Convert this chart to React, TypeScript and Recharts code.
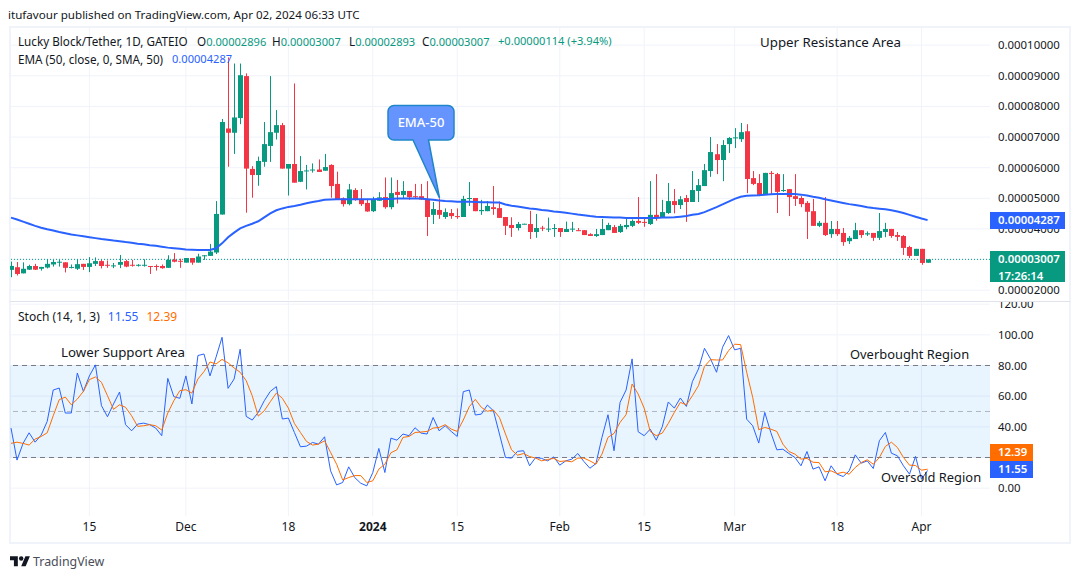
import React from "react";
import { ComposedChart, Bar, Line, XAxis, YAxis, CartesianGrid, ReferenceLine, ReferenceArea } from "recharts";

const PRICE_UNIT = 1e-5;
const opens = [2.663,2.75,2.55,2.67,2.79,2.70,2.74,2.84,2.91,2.91,
2.74,2.70,2.86,2.76,2.86,2.95,2.83,2.78,2.83,2.95,
2.83,2.81,2.81,2.79,2.79,2.79,2.73,3.00,2.96,2.90,
3.05,2.90,3.12,3.12,3.23,4.47,7.28,7.14,7.62,8.99,
5.96,5.76,6.19,6.71,7.14,7.39,5.97,6.12,5.54,5.89,
5.92,5.94,5.90,6.09,5.47,5.00,4.81,5.27,4.98,4.85,
4.58,4.92,5.04,4.71,5.21,5.11,5.24,5.07,5.07,4.98,
4.46,4.62,4.39,4.52,4.42,4.39,4.98,5.01,4.58,4.58,
4.71,4.68,4.39,4.13,4.03,4.15,4.16,3.90,4.04,3.99,
4.01,4.03,3.90,3.99,3.96,3.96,3.83,3.77,3.80,3.96,
4.06,3.90,4.06,4.10,4.26,4.23,4.16,4.46,4.36,4.52,
4.91,4.78,5.01,4.88,5.24,5.40,5.89,6.44,6.25,6.77,
6.97,6.93,7.19,5.66,5.50,5.14,5.83,5.79,5.24,5.30,
5.07,5.01,4.85,4.58,4.10,4.20,3.83,4.00,3.87,3.60,
3.67,3.96,3.82,3.87,3.71,3.90,4.00,3.80,3.77,3.41,
3.12,3.35,2.896];
const closes = [2.793,2.53,2.70,2.79,2.67,2.76,2.86,2.92,2.93,2.73,
2.76,2.85,2.76,2.88,2.95,2.79,2.81,2.81,2.92,2.77,
2.81,2.83,2.83,2.77,2.77,2.72,2.99,2.93,2.93,3.05,
2.90,3.10,3.14,3.26,4.49,7.49,7.14,7.64,9.02,5.97,
5.76,6.22,6.77,7.16,7.39,5.97,6.12,5.51,5.89,5.91,
5.94,5.86,6.02,5.40,4.97,4.81,5.29,4.95,4.81,4.57,
4.97,5.03,4.71,5.17,5.11,5.24,5.04,5.04,4.96,4.39,
4.65,4.46,4.55,4.42,4.39,4.98,5.01,4.58,4.62,4.75,
4.65,4.36,4.10,4.03,4.16,4.17,3.90,4.03,4.01,4.01,
4.03,3.90,4.00,4.01,3.94,3.80,3.77,3.83,4.00,4.13,
3.87,4.10,4.13,4.26,4.20,4.21,4.46,4.36,4.55,4.91,
4.78,4.97,4.88,5.27,5.43,5.92,6.51,6.25,6.74,6.97,
6.99,7.16,5.63,5.47,5.11,5.83,5.80,5.21,5.27,5.04,
4.98,4.81,4.56,4.10,4.20,3.80,4.00,3.83,3.57,3.71,
3.96,3.80,3.86,3.71,3.93,4.00,3.77,3.74,3.38,3.12,
3.35,2.89,3.007];
const highs = [2.935,2.92,2.91,2.83,2.86,2.76,3.01,2.99,2.99,2.91,
2.84,3.01,2.86,3.08,3.07,2.99,2.97,2.89,3.15,2.99,
2.99,2.85,3.01,2.79,2.84,2.84,3.14,3.21,3.03,3.05,
3.05,3.19,3.14,3.51,4.91,7.59,9.60,9.40,9.40,9.08,
6.05,6.36,7.49,8.99,7.88,7.46,6.12,8.75,6.38,6.09,
6.14,6.27,6.45,6.11,5.87,5.03,5.47,5.33,5.30,4.98,
5.05,5.20,5.68,5.68,5.60,5.56,5.24,5.47,5.47,5.56,
4.88,5.00,4.67,4.65,4.67,5.08,5.53,5.01,4.95,4.91,
5.40,4.89,4.39,4.38,4.23,4.17,4.59,4.49,4.10,4.37,
4.16,4.03,4.24,4.23,4.03,3.96,3.86,4.00,4.33,4.20,
4.13,4.16,4.36,4.31,5.04,4.36,5.56,5.79,4.95,5.50,
5.30,5.07,5.11,5.89,5.63,6.12,7.00,6.77,6.90,7.00,
7.29,7.46,7.42,5.89,5.79,5.83,5.89,5.83,5.79,5.30,
5.79,5.07,4.91,4.98,4.26,5.04,4.26,4.26,4.03,3.77,
4.20,3.96,3.92,3.87,4.52,4.20,4.00,3.90,3.80,3.45,
3.35,3.35,3.007];
const lows = [2.424,2.48,2.55,2.66,2.66,2.64,2.71,2.77,2.77,2.58,
2.71,2.66,2.66,2.59,2.79,2.71,2.73,2.72,2.72,2.75,
2.77,2.77,2.77,2.53,2.64,2.70,2.73,2.91,2.73,2.90,
2.83,2.90,2.99,3.12,3.18,4.47,6.03,6.45,7.42,4.53,
5.02,5.41,6.03,6.19,6.92,5.97,5.09,5.51,5.53,5.29,
5.84,5.86,5.90,5.02,4.97,4.73,4.77,4.92,4.75,4.56,
4.55,4.92,4.66,4.64,4.83,4.98,4.95,4.98,4.95,3.77,
4.16,4.33,4.33,4.33,4.33,4.39,4.75,4.58,4.46,4.58,
4.46,4.36,3.80,3.74,3.95,4.15,3.67,3.71,3.93,3.90,
3.74,3.74,3.90,3.90,3.93,3.80,3.77,3.74,3.80,3.96,
3.87,3.87,3.99,4.06,4.16,4.07,4.13,4.27,4.36,4.49,
4.51,4.65,4.23,4.88,4.88,5.40,5.70,5.79,5.56,6.48,
6.64,6.84,5.17,5.43,5.07,5.14,5.14,4.52,5.21,4.42,
4.75,4.71,3.67,4.10,4.06,3.77,3.71,3.77,3.45,3.51,
3.67,3.71,3.77,3.61,3.64,3.73,3.71,3.61,3.15,3.05,
3.12,2.83,2.893];
const emaValues = [4.37,4.31,4.24,4.17,4.10,4.04,3.99,3.95,3.90,3.86,
3.82,3.79,3.76,3.73,3.70,3.67,3.65,3.62,3.60,3.57,
3.55,3.52,3.50,3.47,3.45,3.42,3.39,3.37,3.35,3.33,
3.32,3.31,3.31,3.31,3.37,3.53,3.73,3.88,4.02,4.10,
4.17,4.25,4.38,4.51,4.61,4.67,4.72,4.75,4.79,4.84,
4.88,4.91,4.95,4.96,4.97,4.97,4.97,4.97,4.97,4.97,
4.97,4.98,4.98,4.98,4.99,4.99,4.99,4.99,4.99,4.97,
4.95,4.93,4.91,4.90,4.89,4.89,4.89,4.88,4.87,4.87,
4.86,4.86,4.80,4.76,4.73,4.70,4.67,4.65,4.62,4.60,
4.57,4.55,4.53,4.50,4.47,4.45,4.42,4.40,4.39,4.38,
4.37,4.37,4.36,4.36,4.36,4.36,4.36,4.36,4.37,4.37,
4.38,4.40,4.42,4.46,4.49,4.55,4.63,4.71,4.80,4.89,
4.98,5.05,5.08,5.09,5.10,5.12,5.13,5.14,5.14,5.14,
5.14,5.12,5.09,5.05,5.02,4.97,4.93,4.89,4.85,4.81,
4.78,4.75,4.71,4.68,4.66,4.64,4.61,4.57,4.52,4.46,
4.40,4.34,4.287];
const stochK = [39.2,18.3,29.2,36.1,30,34.6,43.5,64,65.3,49,
49,75.1,63.1,73.2,80.4,53.8,46.6,54.9,62.7,41.4,
37.4,41.8,42.4,41.4,39.2,34.2,71.6,59.7,58.6,73.2,
54.9,86.5,87.5,73.2,85.4,98.4,65.1,71.2,90.6,46.8,
44.4,49.4,57,63.1,66.2,45.1,45.7,36.3,27,27.4,
29.8,28.7,33.5,11.3,2.1,3.7,13.9,6.9,3.2,1.5,
10.2,25.9,10.2,32.6,31.3,35.3,34.2,39.4,35.9,35.3,
46.1,37.4,40.7,37,33.7,62.9,64,47.7,48.3,54.2,
50.5,35.3,20,19.6,24,24.4,14.6,20,19.4,17.8,
20.4,15,17.8,18.9,22.6,17.4,13,16,33.1,47.9,
24.4,55.9,64,84.3,36.8,34.2,38.5,31.3,40,56.2,
52.2,58.8,53.3,69.5,77.7,91.2,84.3,75.6,91.9,99.5,
90.2,91.2,45,40.7,29.4,49.4,36.3,25,25.4,22.6,
20,14.6,23.9,12.4,13.9,4.8,14.6,9.1,7.6,11.3,
21.7,16.3,17.8,12.8,30.9,36.3,22.8,21.1,14.6,9.1,
20.7,5.8,11.55];
const stochD = [29.2,30,29.2,28.1,32,33.7,36.1,47.2,57.7,59.4,
54.4,58.1,63.1,70.8,72.5,69,60.3,51.4,54.4,52.7,
47.2,40.3,40.7,41.4,40.7,37.9,49,57,63.6,64.2,
62,71.2,76,82.3,81,84,81.7,78.4,75.6,70.1,
60.3,47,50.5,56.4,62,58.6,52.2,42.2,36.3,30.5,
28.1,28.7,30.9,23.3,15.6,5.4,6.9,8.2,8.2,3.7,
4.8,12.4,15.6,23.1,25,33.1,33.7,36.3,36.6,37,
39.2,39.6,41.4,38.5,37,44.4,53.1,57.9,52.7,50.1,
51,46.1,35.3,25,21.5,22.6,20.6,19.6,17.8,18.7,
19.4,17.4,17.8,17.2,19.6,19.6,17.8,15.6,22.2,33.1,
35.7,42.9,47.9,67.9,61.4,52.2,37,34.2,35.9,42.2,
49.4,55.9,54.4,60.3,66.8,79.4,83.8,83.6,83.6,89.7,
93.9,93.6,75.6,59.2,38.1,39.6,38.5,37,28.7,23.9,
22.2,18.9,19.4,16.9,16.7,10.6,11.3,9.5,10.4,9.1,
13.5,16.7,18.5,15.6,20,27.2,30,26.5,20,15,
14.8,11.7,12.39];

const dateTickIndex = [13, 29, 46, 60, 74, 91, 105, 120, 137, 151];
const dateTickLabels = ["15", "Dec", "18", "2024", "15", "Feb", "15", "Mar", "18", "Apr"];
const priceTicks = [2, 3, 4, 5, 6, 7, 8, 9, 10];
const stochTicks = [0, 20, 40, 60, 80, 100, 120];
const lastClose = 3.007;

const rows = opens.map((o, i) => ({
  i,
  o: o * PRICE_UNIT,
  c: closes[i] * PRICE_UNIT,
  hl: [lows[i] * PRICE_UNIT, highs[i] * PRICE_UNIT],
  h: highs[i] * PRICE_UNIT,
  l: lows[i] * PRICE_UNIT,
  ema: emaValues[i] * PRICE_UNIT,
  k: stochK[i],
  d: stochD[i],
}));

const FONT = "'Noto Sans', sans-serif";
const GRID = "#f0f3fa";
const UP = "#089981";
const DOWN = "#f23645";
const TEXT = "#131722";
const X_DOMAIN: [number, number] = [-0.166, 162.35];

const Candle = (p: any) => {
  const { x, y, width, height, payload } = p;
  if (!payload) return null;
  const cx = Math.floor(x + width / 2) + 0.5;
  const k = height / (payload.h - payload.l || 1);
  const ty = y + (payload.h - Math.max(payload.o, payload.c)) * k;
  const by = y + (payload.h - Math.min(payload.o, payload.c)) * k;
  const color = payload.c >= payload.o ? UP : DOWN;
  return (
    <g>
      <line x1={cx} x2={cx} y1={y} y2={y + height} stroke={color} strokeWidth={1} />
      <rect x={cx - 2.5} y={ty} width={5} height={Math.max(by - ty, 1)} fill={color} />
    </g>
  );
};

const DateTick = (p: any) => {
  const idx = dateTickIndex.indexOf(p.payload.value);
  const label = dateTickLabels[idx];
  return (
    <text x={p.x} y={p.y} dy={4} textAnchor="middle" fontFamily={FONT} fontSize={12} fill={TEXT}
      fontWeight={label === "2024" ? 700 : 400}>{label}</text>
  );
};

const abs = (left: number, top: number, extra: any = {}): React.CSSProperties => ({
  position: "absolute", left, top, fontFamily: FONT, fontSize: 11.7, lineHeight: "16px",
  color: TEXT, whiteSpace: "nowrap", ...extra,
});

const Tag = ({ top, h, w, bg, lines }: any) => (
  <div style={abs(990, top, { width: w, height: h, background: bg, color: "#fff", fontWeight: 600, fontSize: 11.4, paddingLeft: 8, boxSizing: "border-box", lineHeight: "16.5px" })}>
    {lines.map((t: string) => <div key={t}>{t}</div>)}
  </div>
);

const NUM = { color: UP, fontSize: 11.1 };

export default function App() {
  return (
    <div style={{ position: "absolute", left: 0, top: 0, width: 1080, height: 579, background: "#fff", overflow: "hidden" }}>
      <div style={abs(8, 7, { fontSize: 11.6 })}>itufavour published on TradingView.com, Apr 02, 2024 06:33 UTC</div>
      <div style={{ position: "absolute", left: 9, top: 26, width: 1062, height: 518, border: `2px solid ${GRID}`, boxSizing: "border-box" }} />
      <div style={{ position: "absolute", left: 10, top: 301, width: 1060, height: 1, background: "#e0e3eb" }} />

      <div style={{ position: "absolute", left: 0, top: 27 }}>
        <ComposedChart width={1070} height={273} data={rows} margin={{ top: 0, right: 0, bottom: 0, left: 10 }}>
          <CartesianGrid stroke={GRID} strokeWidth={1}
            verticalValues={dateTickIndex}
            horizontalValues={priceTicks.map((t) => t * PRICE_UNIT)} />
          <XAxis dataKey="i" type="number" domain={X_DOMAIN} allowDataOverflow ticks={dateTickIndex} hide />
          <YAxis orientation="right" width={80} domain={[1.68e-5, 10.593e-5]} allowDataOverflow
            ticks={priceTicks.map((t) => t * PRICE_UNIT)} interval={0} axisLine={false} tickLine={false} tickSize={0} tickMargin={8}
            tick={{ fontFamily: FONT, fontSize: 11.4, fill: TEXT }} tickFormatter={(v: number) => v.toFixed(8)} />
          <ReferenceLine y={lastClose * PRICE_UNIT} stroke={UP} strokeDasharray="1 2" />
          <Bar dataKey="hl" barSize={5} shape={Candle} isAnimationActive={false} />
          <Line dataKey="ema" stroke="#2962ff" strokeWidth={2} dot={false} isAnimationActive={false} />
        </ComposedChart>
      </div>

      <div style={{ position: "absolute", left: 0, top: 302 }}>
        <ComposedChart width={1070} height={241} data={rows} margin={{ top: 0, right: 0, bottom: 0, left: 10 }}>
          <ReferenceArea y1={20} y2={80} fill="#2196f3" fillOpacity={0.1} stroke="none" />
          <CartesianGrid stroke={GRID} strokeWidth={1} verticalValues={dateTickIndex} horizontalValues={stochTicks} />
          <XAxis dataKey="i" type="number" domain={X_DOMAIN} allowDataOverflow ticks={dateTickIndex} interval={0}
            height={27} axisLine={false} tickLine={false} tickSize={0} tickMargin={11} tick={<DateTick />} />
          <YAxis orientation="right" width={80} domain={[-18.16, 121.41]} allowDataOverflow ticks={stochTicks} interval={0}
            axisLine={false} tickLine={false} tickSize={0} tickMargin={8}
            tick={{ fontFamily: FONT, fontSize: 11.4, fill: TEXT }} tickFormatter={(v: number) => v.toFixed(2)} />
          <ReferenceLine y={80} stroke="#787b86" strokeDasharray="5 4" />
          <ReferenceLine y={50} stroke="#787b86" strokeOpacity={0.5} strokeDasharray="5 4" />
          <ReferenceLine y={20} stroke="#787b86" strokeDasharray="5 4" />
          <Line dataKey="k" stroke="#2962ff" strokeWidth={1} dot={false} isAnimationActive={false} />
          <Line dataKey="d" stroke="#ff6d00" strokeWidth={1} dot={false} isAnimationActive={false} />
        </ComposedChart>
      </div>

      <Tag top={212} h={17} w={75} bg="#2962ff" lines={["0.00004287"]} />
      <Tag top={251} h={31} w={75} bg={UP} lines={["0.00003007", "17:26:14"]} />
      <Tag top={444} h={17} w={43} bg="#ff6d00" lines={["12.39"]} />
      <Tag top={461} h={17} w={43} bg="#2962ff" lines={["11.55"]} />

      <div style={abs(18, 33)}>Lucky Block/Tether, 1D, GATEIO</div>
      <div style={abs(197, 33)}>O<span style={NUM}>0.00002896</span></div>
      <div style={abs(272, 33)}>H<span style={NUM}>0.00003007</span></div>
      <div style={abs(349, 33)}>L<span style={NUM}>0.00002893</span></div>
      <div style={abs(422, 33)}>C<span style={NUM}>0.00003007</span></div>
      <div style={abs(498, 33, NUM)}>+0.00000114 (+3.94%)</div>
      <div style={abs(18, 51)}>EMA (50, close, 0, SMA, 50)</div>
      <div style={abs(172, 51, { color: "#2962ff", fontSize: 11.1 })}>0.00004287</div>
      <div style={abs(18, 309, { fontSize: 12 })}>Stoch (14, 1, 3)<span style={{ marginLeft: 8, color: "#2962ff" }}>11.55</span><span style={{ marginLeft: 8, color: "#ff6d00" }}>12.39</span></div>

      <div style={abs(760, 34, { fontSize: 13.3 })}>Upper Resistance Area</div>
      <div style={abs(61, 344, { fontSize: 13.3 })}>Lower Support Area</div>
      <div style={abs(850, 346, { fontSize: 12.9 })}>Overbought Region</div>
      <div style={abs(881, 469, { fontSize: 12.9 })}>Oversold Region</div>

      <svg style={{ position: "absolute", left: 0, top: 0, pointerEvents: "none" }} width={1080} height={579}>
        <path d="M394 105.5H448a6 6 0 0 1 6 6V134a6 6 0 0 1 -6 6H428.5L439.5 198L413 140H394a6 6 0 0 1 -6 -6V111.5a6 6 0 0 1 6 -6Z"
          fill="#6694ff" stroke="#1f86c9" strokeWidth={1.5} />
        <text x={421} y={127} textAnchor="middle" fontFamily={FONT} fontSize={13} fontWeight={500} fill="#fff">EMA-50</text>
        <g transform="translate(10 554) scale(0.56)" fill="#131722">
          <path d="M14 22H7V11H0V4h14v18zM28 22h-8l7.5-18h8L28 22z" />
          <circle cx="20" cy="8" r="4" />
        </g>
      </svg>
      <div style={abs(33, 553, { fontSize: 12.4, lineHeight: "18px", color: "#4a4e59" })}>TradingView</div>
    </div>
  );
}
